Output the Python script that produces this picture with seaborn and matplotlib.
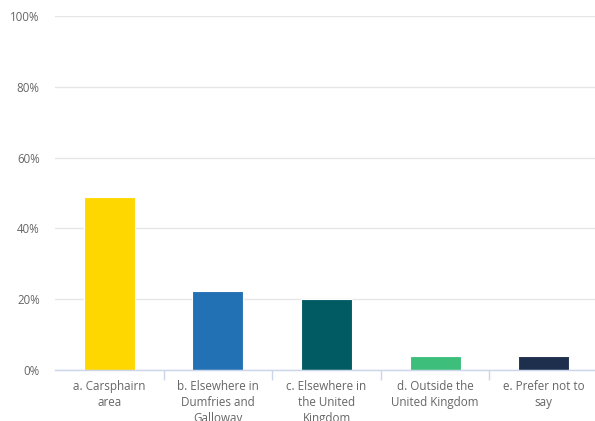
import matplotlib
matplotlib.use("Agg")
import matplotlib.pyplot as plt
import seaborn as sns
import pandas as pd
from matplotlib.ticker import FixedLocator, FuncFormatter

categories = [
    "a. Carsphairn\narea",
    "b. Elsewhere in\nDumfries and\nGalloway",
    "c. Elsewhere in\nthe United\nKingdom",
    "d. Outside the\nUnited Kingdom",
    "e. Prefer not to\nsay",
]
values = [48.8, 22.3, 20.1, 3.9, 3.9]
colors = ["#FFD700", "#2271B4", "#005B62", "#3DBF7B", "#1E2F4E"]
y_ticks = [0, 20, 40, 60, 80, 100]

df = pd.DataFrame({"category": categories, "value": values})

sns.set_theme(style="white")
plt.rcParams["font.family"] = ["Open Sans", "DejaVu Sans"]

fig = plt.figure(figsize=(5.95, 4.21), dpi=100)
ax = fig.add_axes([55 / 595, 51 / 421, 543 / 595, 354 / 421])

sns.barplot(
    data=df, x="category", y="value", hue="category",
    palette=colors, saturation=1, width=0.47, legend=False, ax=ax,
    edgecolor="white", linewidth=0.8,
)

ax.set_xlim(-0.5, len(categories) - 0.5)
ax.set_ylim(0, 100)
ax.set_xlabel("")
ax.set_ylabel("")

ax.yaxis.set_major_locator(FixedLocator(y_ticks))
ax.yaxis.set_major_formatter(FuncFormatter(lambda v, _: f"{v:.0f}%"))
ax.grid(axis="y", color="#e6e6e6", linewidth=1)
ax.set_axisbelow(True)

for side in ["top", "right", "left"]:
    ax.spines[side].set_visible(False)
ax.spines["bottom"].set_color("#ccd6eb")
ax.spines["bottom"].set_linewidth(1)
ax.spines["bottom"].set_zorder(3)

ax.tick_params(axis="y", length=0, pad=11, labelsize=8.3, labelcolor="#666666")
ax.tick_params(axis="x", which="major", length=0, pad=7.5, labelsize=8.4, labelcolor="#666666")
ax.xaxis.set_minor_locator(FixedLocator([i + 0.5 for i in range(len(categories) - 1)]))
ax.tick_params(axis="x", which="minor", length=7, width=1, color="#ccd6eb", bottom=True)
for lbl in ax.get_xticklabels():
    lbl.set_linespacing(1.3)

fig.savefig("out.png", dpi=100)
